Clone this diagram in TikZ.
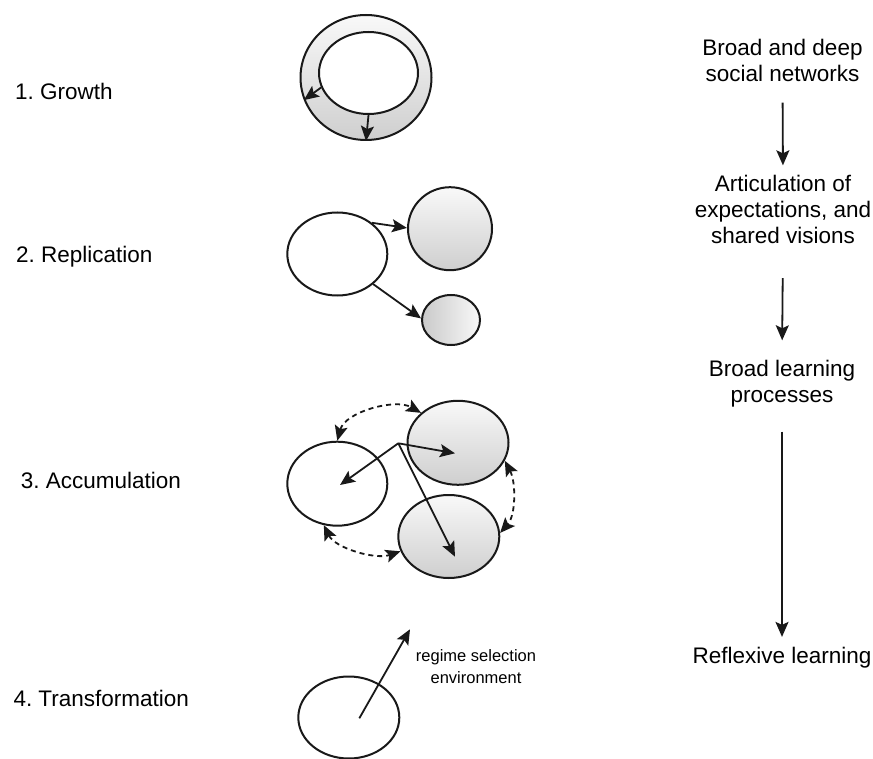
\documentclass[tikz,border=0pt]{standalone}
\usepackage{fontspec}
\setmainfont{Liberation Sans}
\usetikzlibrary{shapes.geometric,arrows.meta}
\frenchspacing
\begin{document}
\begin{tikzpicture}[x=1pt,y=-1pt,
  ell/.style={ellipse, draw=black!90, line width=2pt, inner sep=0pt, fill=white},
  gshade/.style={top color=gray!5, bottom color=gray!38},
  arr/.style={-{Stealth[length=15pt,width=13pt,inset=3pt]}, line width=1.8pt, draw=black!90},
  darr/.style={{Stealth[length=15pt,width=13pt,inset=3pt]}-{Stealth[length=15pt,width=13pt,inset=3pt]}, line width=1.8pt, draw=black!90, dash pattern=on 5pt off 4pt},
  lbl/.style={font=\fontsize{22.5}{26}\selectfont, anchor=base west, inner sep=0pt},
  rtxt/.style={font=\fontsize{22.5}{26}\selectfont, align=center, anchor=north, inner sep=0pt},
]
\useasboundingbox (0,0) rectangle (873,759);

% left labels
\node[lbl] (l1) at (15,99.3) {1. Growth};
\node[lbl] (l2) at (16,263) {2. Replication};
\node[lbl] (l3) at (20.7,488) {3. Accumulation};
\node[lbl] (l4) at (13.3,706.7) {4. Transformation};

% 1. Growth
\node[ell, gshade, minimum width=131pt, minimum height=125pt] (gout) at (366,77.5) {};
\node[ell, minimum width=99pt, minimum height=82pt] (gin) at (368.5,73) {};
\draw[arr] (gin.-163) -- (gout.-160);
\draw[arr] (gin.-90) -- (gout.-90);

% 2. Replication
\node[ell, minimum width=100pt, minimum height=83pt] (rL) at (337.3,254) {};
\node[ell, gshade, minimum width=84pt, minimum height=83pt] (rT) at (450,228.7) {};
\node[ell, left color=gray!42, right color=gray!5, minimum width=58pt, minimum height=50pt] (rS) at (451,320) {};
\draw[arr] (rL.42) -- (rT.179);
\draw[arr] (rL.-40) -- (rS.177);

% 3. Accumulation
\node[ell, minimum width=100pt, minimum height=84pt] (aL) at (337.3,483.7) {};
\node[ell, gshade, minimum width=101pt, minimum height=84pt] (aT) at (458,442.8) {};
\node[ell, gshade, minimum width=101pt, minimum height=83pt] (aB) at (448.8,536.5) {};
\coordinate (ao) at (398.3,443.3);
\coordinate (aLc) at (340,485);
\coordinate (aTc) at (455,453.3);
\coordinate (aBc) at (455,556.7);
\draw[arr] (ao) -- (aLc);
\draw[arr] (ao) -- (aTc);
\draw[arr] (ao) -- (aBc);
\draw[darr] (aL.90) .. controls (345,412) and (395,398) .. (aT.141);
\draw[darr] (aT.-21) .. controls (516,482) and (516,515) .. (aB.4);
\draw[darr] (aL.-108) .. controls (335,548) and (375,560) .. (aB.-163);

% 4. Transformation
\node[ell, minimum width=101pt, minimum height=82pt] (tE) at (348.8,717.5) {};
\coordinate (ts) at (359.3,718.3);
\coordinate (te) at (410,629.3);
\draw[arr] (ts) -- (te);
\node[font=\fontsize{16.5}{22}\selectfont, align=center, anchor=north, inner sep=0pt] (env) at (476,649) {regime selection\\environment};

% right column
\node[rtxt] (t1) at (782.5,38.6) {Broad and deep\\social networks};
\node[rtxt] (t2) at (783,175.3) {Articulation of\\expectations, and\\shared visions};
\node[rtxt] (t3) at (782,360.3) {Broad learning\\processes};
\node[rtxt] (t4) at (782,646.9) {Reflexive learning};
\draw[arr, shorten <=21pt, shorten >=10pt] (t1.south) -- (t2.north);
\draw[arr, shorten <=34pt, shorten >=20pt] (t2.south) -- (t3.north);
\draw[arr, shorten <=24pt, shorten >=10pt] (t3.south) -- (t4.north);
\end{tikzpicture}
\end{document}
